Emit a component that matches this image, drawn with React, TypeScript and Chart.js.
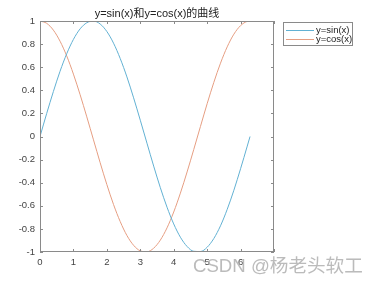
import React, { useEffect, useRef } from 'react';
import { Chart, registerables } from 'chart.js';

Chart.register(...registerables);

const xValues = [0, 0.2, 0.4, 0.6, 0.8, 1.0, 1.2, 1.4, 1.6, 1.8, 2.0, 2.2, 2.4, 2.6, 2.8, 3.0, 3.2, 3.4, 3.6, 3.8, 4.0, 4.2, 4.4, 4.6, 4.8, 5.0, 5.2, 5.4, 5.6, 5.8, 6.0, 6.2, 6.283];
const sinValues = [0, 0.199, 0.389, 0.565, 0.717, 0.841, 0.932, 0.985, 1.0, 0.974, 0.909, 0.808, 0.675, 0.516, 0.335, 0.141, -0.058, -0.256, -0.443, -0.612, -0.757, -0.872, -0.952, -0.994, -0.996, -0.959, -0.883, -0.773, -0.631, -0.465, -0.279, -0.083, 0];
const cosValues = [1, 0.98, 0.921, 0.825, 0.697, 0.54, 0.362, 0.17, -0.029, -0.227, -0.416, -0.589, -0.737, -0.857, -0.942, -0.99, -0.998, -0.967, -0.897, -0.791, -0.654, -0.49, -0.307, -0.112, 0.087, 0.284, 0.469, 0.635, 0.776, 0.886, 0.96, 0.997, 1];

const xTicks = [0, 1, 2, 3, 4, 5, 6, 7];
const xTickLabels = ['0', '1', '2', '3', '4', '5', '6', ''];
const yTicks = [-1, -0.8, -0.6, -0.4, -0.2, 0, 0.2, 0.4, 0.6, 0.8, 1];
const yTickLabels = ['-1', '-0.8', '-0.6', '-0.4', '-0.2', '0', '0.2', '0.4', '0.6', '0.8', '1'];
const seriesNames = ['y=sin(x)', 'y=cos(x)'];
const seriesColors = ['#62b1d3', '#e69e82'];
const titleText = 'y=sin(x)和y=cos(x)的曲线';
const watermarkText = 'CSDN @杨老头软工';

const FONT = '"Liberation Sans", "Noto Sans CJK SC", Arial, sans-serif';

const decorPlugin = {
  id: 'decor',
  afterDraw(chart: any) {
    const ctx = chart.ctx as CanvasRenderingContext2D;
    const { left, right, top, bottom } = chart.chartArea;
    const xs = chart.scales.x;
    const ys = chart.scales.y;
    ctx.save();
    ctx.strokeStyle = '#8a8a8a';
    ctx.lineWidth = 1;
    ctx.strokeRect(left + 0.5, top + 0.5, right - left - 1, bottom - top - 1);
    ctx.beginPath();
    const tl = 3;
    xTicks.forEach((v) => {
      const px = Math.round(xs.getPixelForValue(v)) + 0.5;
      ctx.moveTo(px, bottom);
      ctx.lineTo(px, bottom - tl);
      ctx.moveTo(px, top);
      ctx.lineTo(px, top + tl);
    });
    yTicks.forEach((v) => {
      const py = Math.round(ys.getPixelForValue(v)) + 0.5;
      ctx.moveTo(left, py);
      ctx.lineTo(left + tl, py);
      ctx.moveTo(right, py);
      ctx.lineTo(right - tl, py);
    });
    ctx.stroke();

    ctx.fillStyle = '#222';
    ctx.font = `11px ${FONT}`;
    ctx.textAlign = 'center';
    ctx.textBaseline = 'middle';
    ctx.fillText(titleText, (left + right) / 2, 14);

    const lx = right + 9;
    const ly = 22;
    ctx.fillStyle = '#fff';
    ctx.fillRect(lx + 0.5, ly + 0.5, 69, 23);
    ctx.strokeStyle = '#8a8a8a';
    ctx.strokeRect(lx + 0.5, ly + 0.5, 69, 23);
    ctx.font = `9.5px ${FONT}`;
    ctx.textAlign = 'left';
    ctx.textBaseline = 'middle';
    seriesNames.forEach((name, i) => {
      const yy = ly + 8.5 + i * 9;
      ctx.strokeStyle = seriesColors[i];
      ctx.beginPath();
      ctx.moveTo(lx + 3, yy);
      ctx.lineTo(lx + 31, yy);
      ctx.stroke();
      ctx.fillStyle = '#222';
      ctx.fillText(name, lx + 33, yy);
    });

    ctx.font = `20px ${FONT}`;
    const w = ctx.measureText(watermarkText).width;
    const size = 20 * 170 / w;
    ctx.font = `${size}px ${FONT}`;
    ctx.fillStyle = 'rgba(175,175,175,0.85)';
    ctx.textAlign = 'left';
    ctx.textBaseline = 'alphabetic';
    ctx.fillText(watermarkText, 193, 272);
    ctx.restore();
  },
};

export default function App() {
  const ref = useRef<HTMLCanvasElement | null>(null);
  useEffect(() => {
    document.body.style.margin = '0';
    const canvas = ref.current;
    if (!canvas) return;
    const datasets = [sinValues, cosValues].map((vals, i) => ({
      label: seriesNames[i],
      data: xValues.map((x, j) => ({ x, y: vals[j] })),
      borderColor: seriesColors[i],
      backgroundColor: seriesColors[i],
      borderWidth: 1,
      pointRadius: 0,
      cubicInterpolationMode: 'monotone' as const,
      fill: false,
    }));
    const chart = new Chart(canvas, {
      type: 'line',
      data: { datasets },
      options: {
        animation: false,
        responsive: false,
        devicePixelRatio: 1,
        layout: { padding: { left: 0, right: 104, top: 21, bottom: 0 } },
        plugins: {
          legend: { display: false },
          title: { display: false },
          tooltip: { enabled: false },
        },
        scales: {
          x: {
            type: 'linear',
            min: 0,
            max: 7,
            afterBuildTicks: (s: any) => {
              s.ticks = xTicks.map((v) => ({ value: v }));
            },
            afterFit: (s: any) => {
              s.height = 32;
            },
            grid: { display: false, drawTicks: false },
            border: { display: false },
            ticks: {
              autoSkip: false,
              maxRotation: 0,
              padding: 5,
              color: '#444',
              font: { family: FONT, size: 9.5 },
              callback: (v: any) => xTickLabels[xTicks.indexOf(Number(v))] ?? '',
            },
          },
          y: {
            type: 'linear',
            min: -1,
            max: 1,
            afterBuildTicks: (s: any) => {
              s.ticks = yTicks.map((v) => ({ value: v }));
            },
            afterFit: (s: any) => {
              s.width = 40;
            },
            grid: { display: false, drawTicks: false },
            border: { display: false },
            ticks: {
              autoSkip: false,
              padding: 5,
              color: '#444',
              font: { family: FONT, size: 9.5 },
              callback: (v: any) => yTickLabels[yTicks.indexOf(Number(v))] ?? '',
            },
          },
        },
      },
      plugins: [decorPlugin],
    });
    return () => chart.destroy();
  }, []);
  return (
    <div style={{ width: 378, height: 284, background: '#fff' }}>
      <canvas ref={ref} width={378} height={284} style={{ display: 'block' }} />
    </div>
  );
}
